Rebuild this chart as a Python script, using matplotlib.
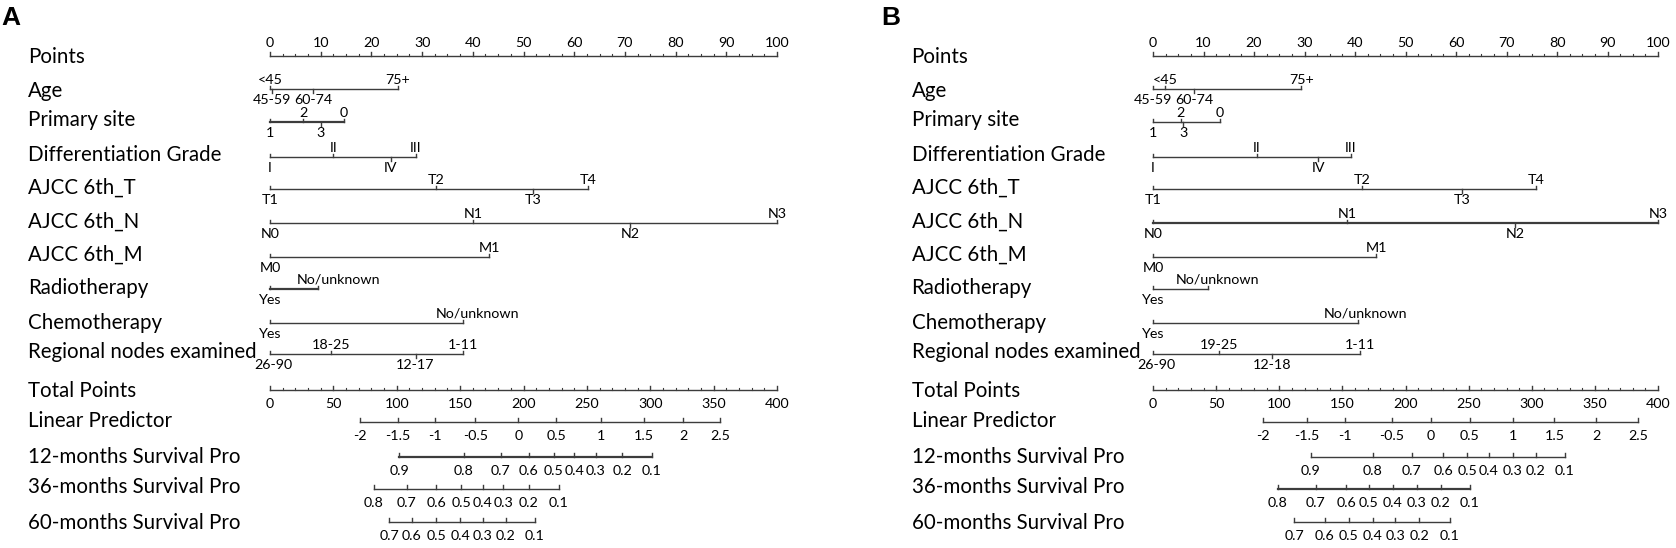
import matplotlib
matplotlib.use("Agg")
import matplotlib.pyplot as plt

# ---------------- DATA ----------------
row_names = ["Points", "Age", "Primary site", "Differentiation Grade", "AJCC 6th_T",
             "AJCC 6th_N", "AJCC 6th_M", "Radiotherapy", "Chemotherapy",
             "Regional nodes examined", "Total Points", "Linear Predictor",
             "12-months Survival Pro", "36-months Survival Pro", "60-months Survival Pro"]

points_ticks = [0, 10, 20, 30, 40, 50, 60, 70, 80, 90, 100]
total_ticks = [0, 50, 100, 150, 200, 250, 300, 350, 400]

# Panel A : variable levels (labels) and their points (0-100 scale)
A_age_lab = ["<45", "45-59", "60-74", "75+"]
A_age_pts = [0, 0.3, 8.5, 25.2]
A_site_lab = ["1", "2", "3", "0"]
A_site_pts = [0, 6.5, 10, 14.5]
A_grade_lab = ["I", "II", "IV", "III"]
A_grade_pts = [0, 12.5, 23.8, 28.8]
A_t_lab = ["T1", "T2", "T3", "T4"]
A_t_pts = [0, 32.7, 51.9, 62.8]
A_n_lab = ["N0", "N1", "N2", "N3"]
A_n_pts = [0, 40.1, 71.1, 100]
A_m_lab = ["M0", "M1"]
A_m_pts = [0, 43.2]
A_radio_lab = ["Yes", "No/unknown"]
A_radio_pts = [0, 9.5]
A_chemo_lab = ["Yes", "No/unknown"]
A_chemo_pts = [0, 38.0]
A_nodes_lab = ["26-90", "18-25", "12-17", "1-11"]
A_nodes_pts = [0, 12.0, 28.7, 38.0]
# Panel A : bottom scales (positions in total points)
A_lp_lab = ["-2", "-1.5", "-1", "-0.5", "0", "0.5", "1", "1.5", "2", "2.5"]
A_lp_tp = [71, 101, 130, 162, 196, 226, 261, 295, 326, 355]
A_s12_lab = ["0.9", "0.8", "0.7", "0.6", "0.5", "0.4", "0.3", "0.2", "0.1"]
A_s12_tp = [102, 153, 182, 204, 224, 240, 257, 278, 301]
A_s36_lab = ["0.8", "0.7", "0.6", "0.5", "0.4", "0.3", "0.2", "0.1"]
A_s36_tp = [82, 108, 131, 151, 168, 184, 204, 228]
A_s60_lab = ["0.7", "0.6", "0.5", "0.4", "0.3", "0.2", "0.1"]
A_s60_tp = [94, 112, 131, 150, 168, 186, 209]

# Panel B
B_age_lab = ["45-59", "<45", "60-74", "75+"]
B_age_pts = [0, 2.4, 8.1, 29.4]
B_site_lab = ["1", "2", "3", "0"]
B_site_pts = [0, 5.5, 6.0, 13.3]
B_grade_lab = ["I", "II", "IV", "III"]
B_grade_pts = [0, 20.6, 32.7, 39.2]
B_t_lab = ["T1", "T2", "T3", "T4"]
B_t_pts = [0, 41.4, 61.2, 75.8]
B_n_lab = ["N0", "N1", "N2", "N3"]
B_n_pts = [0, 38.4, 71.7, 100]
B_m_lab = ["M0", "M1"]
B_m_pts = [0, 44.2]
B_radio_lab = ["Yes", "No/unknown"]
B_radio_pts = [0, 10.9]
B_chemo_lab = ["Yes", "No/unknown"]
B_chemo_pts = [0, 40.6]
B_nodes_lab = ["26-90", "19-25", "12-18", "1-11"]
B_nodes_pts = [0, 13.0, 23.6, 41.0]
B_lp_lab = ["-2", "-1.5", "-1", "-0.5", "0", "0.5", "1", "1.5", "2", "2.5"]
B_lp_tp = [87, 122, 152, 189, 220, 251, 285, 318, 351, 384]
B_s12_lab = ["0.9", "0.8", "0.7", "0.6", "0.5", "0.4", "0.3", "0.2", "0.1"]
B_s12_tp = [125, 174, 205, 230, 249, 266, 285, 303, 326]
B_s36_lab = ["0.8", "0.7", "0.6", "0.5", "0.4", "0.3", "0.2", "0.1"]
B_s36_tp = [99, 129, 153, 171, 190, 209, 228, 251]
B_s60_lab = ["0.7", "0.6", "0.5", "0.4", "0.3", "0.2", "0.1"]
B_s60_tp = [112, 136, 155, 174, 192, 211, 235]

# ---------------- LAYOUT ----------------
W, H = 1676, 548
FONT = "Lato"
row_label_y = [57, 91, 120, 155, 188, 222, 255, 288, 323, 352, 391, 421, 457, 487, 523]
row_line_y = [56, 89, 122, 157, 189, 223, 257, 289, 323, 354, 390, 422, 457, 489, 522]
LINE_COL = "#3c3c3c"
LAB_FS = 14.8
TICK_FS = 10.3

# label side for each level: 'a' above, 'b' below
sides_A = {
    "age": "abba", "site": "baba", "grade": "baba", "t": "baba", "n": "baba",
    "m": "ba", "radio": "ba", "chemo": "ba", "nodes": "baba"}
sides_B = {
    "age": "baba", "site": "baba", "grade": "baba", "t": "baba", "n": "baba",
    "m": "ba", "radio": "ba", "chemo": "ba", "nodes": "baba"}
# small horizontal shifts of some level labels (in point units)
label_dx_A = {("radio", 1): 4.0, ("chemo", 1): 3.0, ("nodes", 0): 0.6}
label_dx_B = {("radio", 1): 1.8, ("chemo", 1): 1.4, ("nodes", 0): 0.6}

fig = plt.figure(figsize=(W / 100, H / 100), dpi=100)


def make_panel(rect, xlim, data, sides, dxs, thick, letter, letter_x):
    ax = fig.add_axes(rect)
    ax.set_xlim(*xlim)
    ax.set_ylim(H, 0)
    ax.axis("off")
    # row labels
    for name, y in zip(row_names, row_label_y):
        ax.text(-47.8, y, name, ha="left", va="center", fontsize=LAB_FS,
                family=FONT, color="black")
    # Points axis
    y0 = row_line_y[0]
    ax.plot([points_ticks[0], points_ticks[-1]], [y0, y0], color=LINE_COL, lw=1.0)
    for t in points_ticks:
        ax.plot([t, t], [y0, y0 - 4], color=LINE_COL, lw=1.0)
        ax.text(t, y0 - 7, str(t), ha="center", va="bottom", fontsize=TICK_FS,
                family=FONT)
    for a, b in zip(points_ticks[:-1], points_ticks[1:]):
        for f in (0.25, 0.5, 0.75):
            p = a + (b - a) * f
            ax.plot([p, p], [y0, y0 - 2], color=LINE_COL, lw=0.8)

    keys = ["age", "site", "grade", "t", "n", "m", "radio", "chemo", "nodes"]
    for i, key in enumerate(keys):
        labs, pts = data[key]
        y = row_line_y[i + 1]
        lw = 1.6 if key in thick else 1.0
        ax.plot([min(pts), max(pts)], [y, y], color=LINE_COL, lw=lw)
        for j, (lab, p) in enumerate(zip(labs, pts)):
            s = sides[key][j]
            dx = dxs.get((key, j), 0.0)
            if s == "a":
                ax.plot([p, p], [y, y - 3.5], color=LINE_COL, lw=1.0)
                ax.text(p + dx, y - 3, lab, ha="center", va="bottom", fontsize=TICK_FS,
                        family=FONT)
            else:
                ax.plot([p, p], [y, y + 3.5] if j else [y, y - 3.5], color=LINE_COL, lw=1.0)
                ax.text(p + dx, y + 5, lab, ha="center", va="top", fontsize=TICK_FS,
                        family=FONT)

    # Total points axis (total points mapped to 0-100 points width)
    yt = row_line_y[10]
    ax.plot([total_ticks[0] / 4, total_ticks[-1] / 4], [yt, yt], color=LINE_COL, lw=1.0)
    for t in total_ticks:
        ax.plot([t / 4, t / 4], [yt, yt - 4], color=LINE_COL, lw=1.0)
        ax.text(t / 4, yt + 8, str(t), ha="center", va="top", fontsize=TICK_FS,
                family=FONT)
    for a, b in zip(total_ticks[:-1], total_ticks[1:]):
        for f in (0.2, 0.4, 0.6, 0.8):
            p = (a + (b - a) * f) / 4
            ax.plot([p, p], [yt, yt - 2], color=LINE_COL, lw=0.8)

    bkeys = ["lp", "s12", "s36", "s60"]
    for i, key in enumerate(bkeys):
        labs, tps = data[key]
        y = row_line_y[11 + i]
        lw = 1.6 if key in thick else 1.0
        ax.plot([tps[0] / 4, tps[-1] / 4], [y, y], color=LINE_COL, lw=lw)
        for lab, tp in zip(labs, tps):
            ax.plot([tp / 4, tp / 4], [y, y - 4], color=LINE_COL, lw=1.0)
            ax.text(tp / 4, y + 8, lab, ha="center", va="top", fontsize=TICK_FS,
                    family=FONT)

    fig.text(letter_x / W, 1 - 6 / H, letter, ha="left", va="top", fontsize=19,
             fontweight="bold", family="Liberation Sans")
    return ax


data_A = {"age": (A_age_lab, A_age_pts), "site": (A_site_lab, A_site_pts),
          "grade": (A_grade_lab, A_grade_pts), "t": (A_t_lab, A_t_pts),
          "n": (A_n_lab, A_n_pts), "m": (A_m_lab, A_m_pts),
          "radio": (A_radio_lab, A_radio_pts), "chemo": (A_chemo_lab, A_chemo_pts),
          "nodes": (A_nodes_lab, A_nodes_pts), "lp": (A_lp_lab, A_lp_tp),
          "s12": (A_s12_lab, A_s12_tp), "s36": (A_s36_lab, A_s36_tp),
          "s60": (A_s60_lab, A_s60_tp)}
data_B = {"age": (B_age_lab, B_age_pts), "site": (B_site_lab, B_site_pts),
          "grade": (B_grade_lab, B_grade_pts), "t": (B_t_lab, B_t_pts),
          "n": (B_n_lab, B_n_pts), "m": (B_m_lab, B_m_pts),
          "radio": (B_radio_lab, B_radio_pts), "chemo": (B_chemo_lab, B_chemo_pts),
          "nodes": (B_nodes_lab, B_nodes_pts), "lp": (B_lp_lab, B_lp_tp),
          "s12": (B_s12_lab, B_s12_tp), "s36": (B_s36_lab, B_s36_tp),
          "s60": (B_s60_lab, B_s60_tp)}

make_panel([0, 0, 838 / W, 1], (-270 / 5.07, (838 - 270) / 5.07), data_A, sides_A,
           label_dx_A, {"site", "radio", "s12"}, "A", 1)
make_panel([838 / W, 0, 838 / W, 1], (-315 / 5.05, (838 - 315) / 5.05), data_B, sides_B,
           label_dx_B, {"n", "s36"}, "B", 881)

fig.savefig("out.png", dpi=100)
